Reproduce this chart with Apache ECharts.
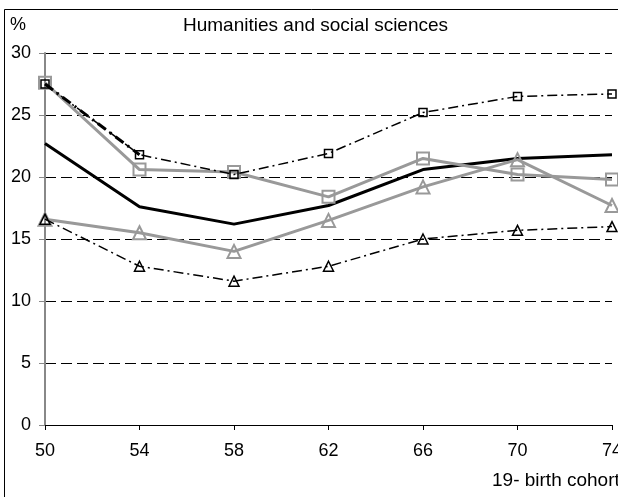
<!DOCTYPE html>
<html><head><meta charset="utf-8">
<script src="https://cdn.jsdelivr.net/npm/echarts@6/dist/echarts.min.js"></script>
<style>html,body{margin:0;padding:0;background:#fff}#c{width:618px;height:497px}</style>
</head><body><div id="c"></div>
<script>
const cohorts = [50, 54, 58, 62, 66, 70, 74];
const yTicks = [0, 5, 10, 15, 20, 25, 30];
const blackSolid = [22.7, 17.6, 16.2, 17.7, 20.6, 21.5, 21.8];
const graySquares = [27.6, 20.6, 20.4, 18.4, 21.5, 20.2, 19.8];
const grayTriangles = [16.6, 15.5, 14.0, 16.5, 19.2, 21.4, 17.7];
const dashSquares = [27.5, 21.8, 20.2, 21.9, 25.2, 26.5, 26.7];
const dashTriangles = [16.6, 12.8, 11.6, 12.8, 15.0, 15.7, 16.0];

const pairs = a => cohorts.map((c, i) => [c, a[i]]);
const FONT = 'Liberation Sans, Arial, sans-serif';
const chart = echarts.init(document.getElementById('c'), null, {renderer: 'canvas'});
chart.setOption({
  animation: false,
  backgroundColor: '#fff',
  textStyle: {fontFamily: FONT},
  title: {
    text: 'Humanities and social sciences', left: 183, top: 16, padding: 0,
    textStyle: {fontFamily: FONT, fontSize: 19, fontWeight: 'normal', color: '#000'}
  },
  graphic: [
    {type: 'rect', shape: {x: 4.5, y: 9.5, width: 800, height: 800}, style: {fill: 'none', stroke: '#000', lineWidth: 1}, silent: true, z: -1},
    {type: 'text', left: 10, top: 16, style: {text: '%', font: '18px ' + FONT, fill: '#000'}},
    {type: 'text', left: 492, top: 471, style: {text: '19- birth cohort', font: '19px ' + FONT, fill: '#000'}}
  ],
  grid: {left: 45, right: 6, top: 53, bottom: 72, containLabel: false, outerBoundsMode: 'none'},
  xAxis: {
    type: 'value', min: 50, max: 74, interval: 4,
    axisLine: {show: true, onZero: false, lineStyle: {color: '#000', width: 1}},
    axisTick: {show: true, length: 5, lineStyle: {color: '#000'}},
    axisLabel: {show: true, margin: 17, fontSize: 18, color: '#000', fontFamily: FONT,
      alignMinLabel: 'center', alignMaxLabel: 'center', hideOverlap: false,
      formatter: v => cohorts.includes(v) ? String(v) : ''},
    splitLine: {show: false}
  },
  yAxis: {
    type: 'value', min: 0, max: 30, interval: 5,
    axisLine: {show: true, lineStyle: {color: '#888', width: 2}},
    axisTick: {show: true, length: 6, lineStyle: {color: '#888'}},
    axisLabel: {margin: 14, fontSize: 18, color: '#000', fontFamily: FONT,
      formatter: v => yTicks.includes(v) ? String(v) : ''},
    splitLine: {show: true, lineStyle: {color: '#000', type: [11, 5], width: 1},
      showMinLine: false}
  },
  series: [
    {type: 'line', data: pairs(blackSolid), symbol: 'none', z: 2,
      lineStyle: {color: '#000', width: 3}},
    {type: 'line', data: pairs(graySquares), symbol: 'rect', symbolSize: 12, z: 3,
      lineStyle: {color: '#999', width: 3},
      itemStyle: {color: 'rgba(255,255,255,0)', borderColor: '#999', borderWidth: 2}},
    {type: 'line', data: pairs(grayTriangles), symbol: 'triangle', symbolSize: 13, z: 3,
      lineStyle: {color: '#999', width: 3},
      itemStyle: {color: 'rgba(255,255,255,0)', borderColor: '#999', borderWidth: 2}},
    {type: 'line', data: pairs(dashSquares).slice(0, 2), symbol: 'none', z: 4,
      lineStyle: {color: '#000', width: 3, type: [10, 5, 2, 5]}},
    {type: 'line', data: pairs(dashSquares), symbol: 'rect', symbolSize: 8, z: 4,
      lineStyle: {color: '#000', width: 1.5, type: [10, 4, 2, 4]},
      itemStyle: {color: 'rgba(255,255,255,0)', borderColor: '#000', borderWidth: 1.5}},
    {type: 'line', data: pairs(dashTriangles), symbol: 'triangle', symbolSize: 10, z: 4,
      lineStyle: {color: '#000', width: 1.5, type: [10, 4, 2, 4]},
      itemStyle: {color: 'rgba(255,255,255,0)', borderColor: '#000', borderWidth: 1.5}}
  ]
});
</script></body></html>
